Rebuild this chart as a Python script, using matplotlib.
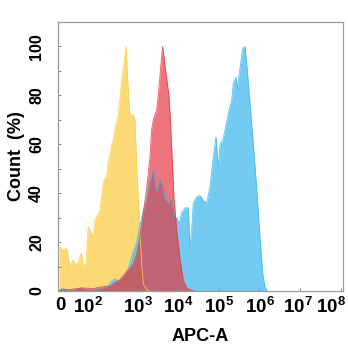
import numpy as np
import matplotlib
matplotlib.use("Agg")
import matplotlib.pyplot as plt
import matplotlib.transforms as mtransforms
from matplotlib.ticker import FixedLocator, MultipleLocator

plt.rcParams["font.family"] = ["Liberation Sans", "DejaVu Sans"]
plt.rcParams["font.weight"] = "bold"
plt.rcParams["mathtext.fontset"] = "custom"
plt.rcParams["mathtext.rm"] = "Liberation Sans:bold"
plt.rcParams["mathtext.it"] = "Liberation Sans:bold"
plt.rcParams["mathtext.bf"] = "Liberation Sans:bold"
plt.rcParams["mathtext.default"] = "bf"

# ---- histogram traces (APC-A intensity, % of max count) ----
yellow_x = [-4.6, 6.4, 15.5, 24.7, 33.8, 42.9, 52.0, 56.6, 61.2, 68.5, 74.9, 79.4,
            84.0, 88.6, 93.1, 97.7, 115, 139, 153, 168, 185, 204, 224, 246, 270,
            327, 395, 451, 505, 577, 634, 698, 767, 843, 927, 1019, 1120, 1233,
            1355, 1637, 1977]
yellow_y = [18.1, 16.7, 17.4, 9.9, 12.7, 9.9, 14.0, 15.4, 9.9, 11.3, 26.3, 24.9,
            23.5, 22.2, 29.0, 30.3, 33, 44, 46, 47, 53, 56, 60, 62, 66,
            72, 86, 93, 100, 82, 72, 72, 72, 70, 52, 38, 25, 11,
            3, 0.5, 0]

red_x = [-4.6, 15.5, 61.2, 88.6, 115, 168, 204, 270, 359, 477, 577, 767, 927,
         1120, 1355, 1637, 1977, 2173, 2393, 2891, 3177, 3491, 3837, 4064, 4385,
         4820, 5300, 5820, 6410, 7047, 7745, 9016, 10890, 13150, 15920, 21130,
         25530]
red_y = [0.3, 0.5, 1.2, 1.0, 1.5, 2.0, 1.8, 3.5, 4.5, 7, 8.6, 11, 15,
         22, 32, 42, 55, 66, 70, 74, 80, 88, 96, 100, 96,
         90, 85, 80, 68, 53, 38, 25, 13, 4.5, 1.2, 0.3,
         0]

blue_x = [-4.6, 6.4, 15.5, 24.7, 56.6, 65.7, 88.6, 115, 168, 224, 270, 327, 434,
          577, 698, 927, 1233, 1637, 1977, 2393, 2630, 2891, 3491, 4227, 4645,
          5610, 6776, 8200, 9016, 10490, 11970, 14450, 17500, 19230, 21130, 23230,
          28120, 33960, 41020, 49550, 59980, 72440, 84330, 96380, 105900, 123300,
          140600, 169800, 205600, 225900, 263000, 283800, 330400, 383700, 438500,
          481900, 529700, 582100, 704700, 851100, 1028000, 1197000, 1368000,
          1561000]
blue_y = [0.3, 1.0, 0.5, 0, 1.5, 0.5, 0.5, 1, 1.5, 4, 5, 4, 6,
          9, 14, 20, 30, 38, 45, 50.6, 45, 41, 46, 42.5, 38,
          36, 38, 30, 30, 27.6, 32, 34, 34, 18, 25, 36,
          38.5, 39, 37, 36, 42.5, 55, 63, 50.6, 60, 61.6,
          65.7, 72.6, 78, 85, 87.5, 83, 91.4, 99, 100,
          93, 85, 77, 60, 42, 22, 7.3, 1.6,
          0]

x_ticks = [0, 1e2, 1e3, 1e4, 1e5, 1e6, 1e7, 1e8]
x_ticklabels = ["0", r"$\mathbf{10^2}$", r"$\mathbf{10^3}$", r"$\mathbf{10^4}$",
                r"$\mathbf{10^5}$", r"$\mathbf{10^6}$", r"$\mathbf{10^7}$",
                r"$\mathbf{10^8}$"]
y_ticks = [0, 20, 40, 60, 80, 100]

fig = plt.figure(figsize=(3.48, 3.50), dpi=100)
ax = fig.add_axes([0.1667, 0.1686, 0.8189, 0.7684])

traces = [
    (yellow_x, yellow_y, "#FDCF4E", 0.78),
    (blue_x, blue_y, "#3EB8EC", 0.72),
    (red_x, red_y, "#E8333C", 0.68),
]
for xs, ys, col, a in traces:
    ax.fill_between(xs, ys, 0, color=col, alpha=a, lw=0)
    ax.plot(xs, ys, color=col, alpha=min(a + 0.12, 1), lw=0.6)

ax.set_xscale("symlog", linthresh=100, linscale=0.811)
ax.set_xlim(-8, 1.15e8)
ax.set_ylim(0, 110)

ax.xaxis.set_major_locator(FixedLocator(x_ticks))
ax.set_xticklabels(x_ticklabels)
ax.set_yticks(y_ticks)
ax.yaxis.set_minor_locator(MultipleLocator(10))

for sp in ax.spines.values():
    sp.set_color("#9a9a9a")
    sp.set_linewidth(0.9)

ax.tick_params(axis="both", which="both", direction="in", color="#8a8a8a",
               length=2, width=0.7)
ax.tick_params(axis="x", labelsize=13.5, pad=4)
ax.tick_params(axis="y", labelsize=11.5, pad=10, labelrotation=90)
for lbl in ax.get_yticklabels():
    lbl.set_verticalalignment("center")

# nudge the crowded labels at both ends of the x axis
shifts = {1: -0.095, 6: -0.02, 7: -0.10}
for i, lbl in enumerate(ax.get_xticklabels()):
    if i in shifts:
        lbl.set_transform(lbl.get_transform() +
                          mtransforms.ScaledTranslation(shifts[i], 0, fig.dpi_scale_trans))

ax.set_xlabel("APC-A", fontsize=13, fontweight="bold")
ax.xaxis.set_label_coords(0.5, -0.171)
ax.xaxis.label.set_verticalalignment("center")
ax.set_ylabel("Count  (%)", fontsize=13, fontweight="bold")
ax.yaxis.set_label_coords(-0.147, 0.502)
ax.yaxis.label.set_verticalalignment("center")

fig.savefig("out.png", dpi=100)
